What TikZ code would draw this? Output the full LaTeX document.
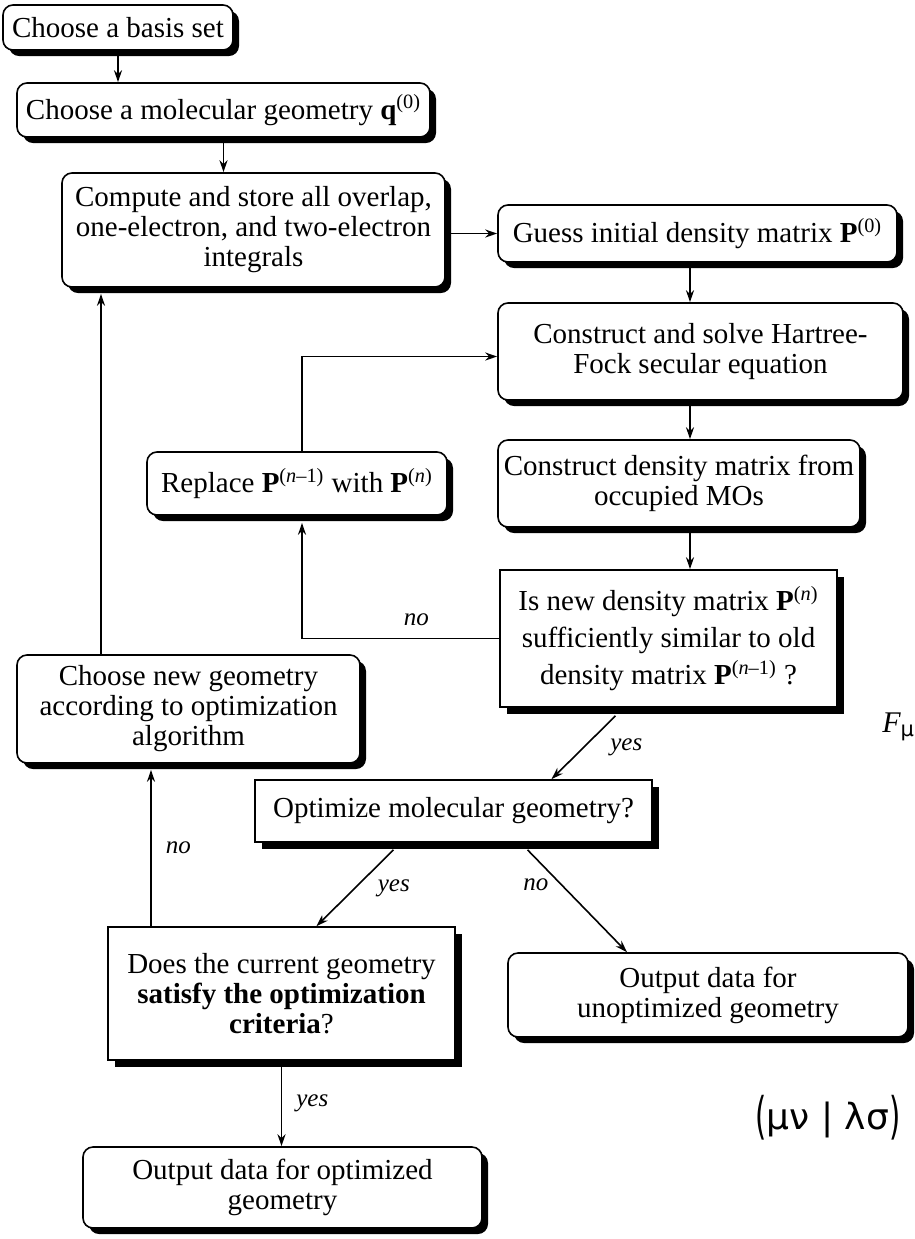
\documentclass[tikz,border=0pt]{standalone}
\usepackage{fontspec}
\setmainfont{Liberation Serif}
\newfontfamily\greekfont{DejaVu Sans}
\usetikzlibrary{shadows,calc,arrows.meta}

\begin{document}
\begin{tikzpicture}[x=0.5pt, y=-0.5pt]
  %
  \def\px{0.5pt}   % one reference pixel
  %
  \tikzset{
    box/.style={draw, line width=0.8pt, fill=white, inner sep=0pt, align=center,
                font=\fontsize{14.5}{15}\selectfont},
    rbox/.style={box, rounded corners=5pt,
                 drop shadow={shadow xshift=3pt, shadow yshift=-3pt, fill=black, opacity=1}},
    qbox/.style={box,
                 drop shadow={shadow xshift=3.5pt, shadow yshift=-3.5pt, fill=black, opacity=1}},
    arr/.style={-{Stealth[length=6pt, width=4pt]}, line width=0.8pt},
    lbl/.style={font=\fontsize{12.5}{13}\selectfont\itshape, inner sep=1pt},
  }
  %
  \useasboundingbox (0,0) rectangle (915,1239);
  %
  % Layout columns
  \coordinate (spine) at (690,0);  % SCF column
  \coordinate (nocol) at (151,0);  % "no" return from geometry test
  \coordinate (upcol) at (101,0);  % return to integrals
  %
  % === SETUP ===
  \node[rbox, minimum width=230*\px, minimum height=45*\px] (basis) at (118,27.5)
    {Choose a basis set};
  \node[rbox, minimum width=413*\px, minimum height=54*\px] (geom) at (223.5,110)
    {Choose a molecular geometry \textbf{q}\textsuperscript{(0)}};
  \node[rbox, minimum width=383*\px, minimum height=114*\px] (integ) at (253.5,230)
    {Compute and store all overlap,\\one-electron, and two-electron\\integrals};
  %
  % === SCF LOOP ===
  \node[rbox, minimum width=399*\px, minimum height=57*\px] (guess) at (697.5,233.5)
    {Guess initial density matrix \textbf{P}\textsuperscript{(0)}};
  \node[rbox, minimum width=405*\px, minimum height=97*\px] (hf) at (700.5,351.5)
    {Construct and solve Hartree-\\Fock secular equation};
  \node[rbox, minimum width=362*\px, minimum height=87*\px] (dens) at (679,483.5)
    {Construct density matrix from\\occupied MOs};
  \node[rbox, minimum width=300*\px, minimum height=63*\px] (replace) at (297,483.5)
    {Replace \textbf{P}\textsuperscript{(\textit{n}–1)} with \textbf{P}\textsuperscript{(\textit{n})}};
  \node[qbox, minimum width=337*\px, minimum height=137*\px,
        font=\fontsize{14.5}{18.5}\selectfont] (check) at (668.5,638.5)
    {Is new density matrix \textbf{P}\textsuperscript{(\textit{n})}\\sufficiently similar to old\\density matrix \textbf{P}\textsuperscript{(\textit{n}–1)} ?};
  %
  % === GEOMETRY LOOP ===
  \node[rbox, minimum width=343*\px, minimum height=108*\px] (newgeo) at (188.5,709)
    {Choose new geometry\\according to optimization\\algorithm};
  \node[qbox, minimum width=397*\px, minimum height=62*\px] (opt) at (453.5,811)
    {Optimize molecular geometry?};
  \node[qbox, minimum width=347*\px, minimum height=133*\px] (does) at (281.5,993.5)
    {Does the current geometry\\\textbf{satisfy the optimization}\\\textbf{criteria}?};
  \node[rbox, minimum width=400*\px, minimum height=84*\px] (unopt) at (708,995)
    {Output data for\\unoptimized geometry};
  \node[rbox, minimum width=399*\px, minimum height=81*\px] (done) at (282.5,1187.5)
    {Output data for optimized\\geometry};
  %
  % === ARROWS ===
  \draw[arr] (basis.south) -- (basis.south |- geom.north);
  \draw[arr] (geom.south) -- (geom.south |- integ.north);
  \draw[arr] (integ.east |- guess.west) -- (guess.west);
  \draw[arr] (guess.south -| spine) -- (hf.north -| spine);
  \draw[arr] (hf.south -| spine) -- (dens.north -| spine);
  \draw[arr] (dens.south -| spine) -- (check.north -| spine);
  \draw[arr] (check.west) -| ($(replace.south)+(5,7)$) node[lbl, pos=0.21, above=5pt] {no};
  \draw[arr] ($(replace.north)+(5,0)$) |- ($(hf.west)+(0,5)$);
  \draw[arr] ([shift={(-53,8)}]check.south) -- ([shift={(98,0)}]opt.north)
    node[lbl, midway, right=12pt] {yes};
  \draw[arr] ([shift={(-60,7)}]opt.south) -- ([shift={(35,0)}]does.north)
    node[lbl, midway, right=10pt] {yes};
  \draw[arr] ([shift={(74,7)}]opt.south) -- ([shift={(-81,0)}]unopt.north)
    node[lbl, midway, anchor=south east, xshift=-13pt, yshift=3.5pt] {no};
  \draw[arr] (does.south) -- (does.south |- done.north)
    node[lbl, midway, right=6pt] {yes};
  \draw[arr] (does.north -| nocol) -- ($(newgeo.south -| nocol)+(0,6)$)
    node[lbl, midway, right=6pt] {no};
  \draw[arr] (newgeo.north -| upcol) -- ($(integ.south -| upcol)+(0,6)$);
  %
  % === SIDE FORMULAS ===
  \node[font=\fontsize{15}{15}\selectfont\itshape, anchor=base west, inner sep=0pt] (fock) at (882,732)
    {F\textsubscript{\greekfont\upshape μ}};
  \node[font=\greekfont\fontsize{18}{18}\selectfont] (eri) at (828,1118)
    {\raisebox{-0.12em}{\scalebox{0.8}[1.4]{(}}μν | λσ\raisebox{-0.12em}{\scalebox{0.8}[1.4]{)}}};
  %
\end{tikzpicture}
\end{document}
